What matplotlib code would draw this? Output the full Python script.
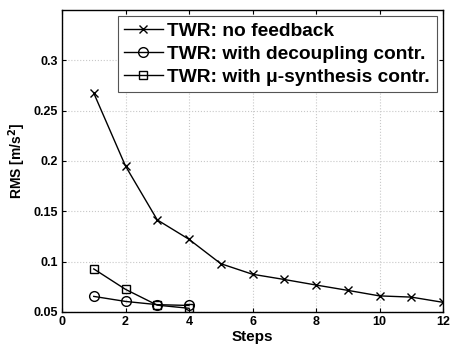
import matplotlib
matplotlib.use("Agg")
import matplotlib.pyplot as plt

steps_nf = [1, 2, 3, 4, 5, 6, 7, 8, 9, 10, 11, 12]
rms_nf = [0.2675, 0.195, 0.1415, 0.1222, 0.098, 0.0875, 0.0823, 0.0768, 0.0715, 0.066, 0.0648, 0.0596]
steps_dc = [1, 2, 3, 4]
rms_dc = [0.0655, 0.0605, 0.0573, 0.0565]
steps_mu = [1, 2, 3, 4]
rms_mu = [0.0928, 0.0725, 0.0568, 0.0537]
labels = ["TWR: no feedback", "TWR: with decoupling contr.", "TWR: with \u03bc-synthesis contr."]
xticks = [0, 2, 4, 6, 8, 10, 12]
yticks = [0.05, 0.1, 0.15, 0.2, 0.25, 0.3]

plt.rcParams['font.family'] = ['Liberation Sans', 'DejaVu Sans']
plt.rcParams['font.weight'] = 'bold'

fig = plt.figure(figsize=(4.5, 3.47), dpi=100)
ax = fig.add_axes([62/450, 1 - 312/347, (443-62)/450, (312-10)/347])

ax.plot(steps_nf, rms_nf, color='black', lw=1, marker='x', ms=6, mew=1, label=labels[0])
ax.plot(steps_dc, rms_dc, color='black', lw=1, marker='o', ms=7, mfc='none', mew=1, label=labels[1])
ax.plot(steps_mu, rms_mu, color='black', lw=1, marker='s', ms=6, mfc='none', mew=1, label=labels[2])

ax.set_xlim(0, 12)
ax.set_ylim(0.05, 0.35)
ax.set_xticks(xticks)
ax.set_yticks(yticks)
ax.set_xticklabels([str(t) for t in xticks])
ax.set_yticklabels(['0.05', '0.1', '0.15', '0.2', '0.25', '0.3'])
ax.tick_params(direction='in', top=True, right=True, labelsize=9, length=3, width=0.8, pad=3)
for lab in ax.get_xticklabels() + ax.get_yticklabels():
    lab.set_fontweight('bold')
ax.grid(True, color='#c8c8c8', ls=':', lw=0.8)
for s in ax.spines.values():
    s.set_linewidth(1.0)
ax.set_xlabel('Steps', fontsize=11, fontweight='bold', labelpad=1)
ax.set_ylabel('RMS [m/s$^\\mathbf{2}$]', fontsize=10, fontweight='bold', labelpad=4)

leg = ax.legend(loc='upper right', bbox_to_anchor=(0.984, 0.980),
                prop={'size': 13.8, 'weight': 'bold'}, fancybox=False, framealpha=1,
                edgecolor='#555555', handlelength=2.0, handletextpad=0.25,
                borderpad=0.35, labelspacing=0.28, borderaxespad=0)
leg.get_frame().set_linewidth(0.8)

fig.savefig('out.png', dpi=100)
